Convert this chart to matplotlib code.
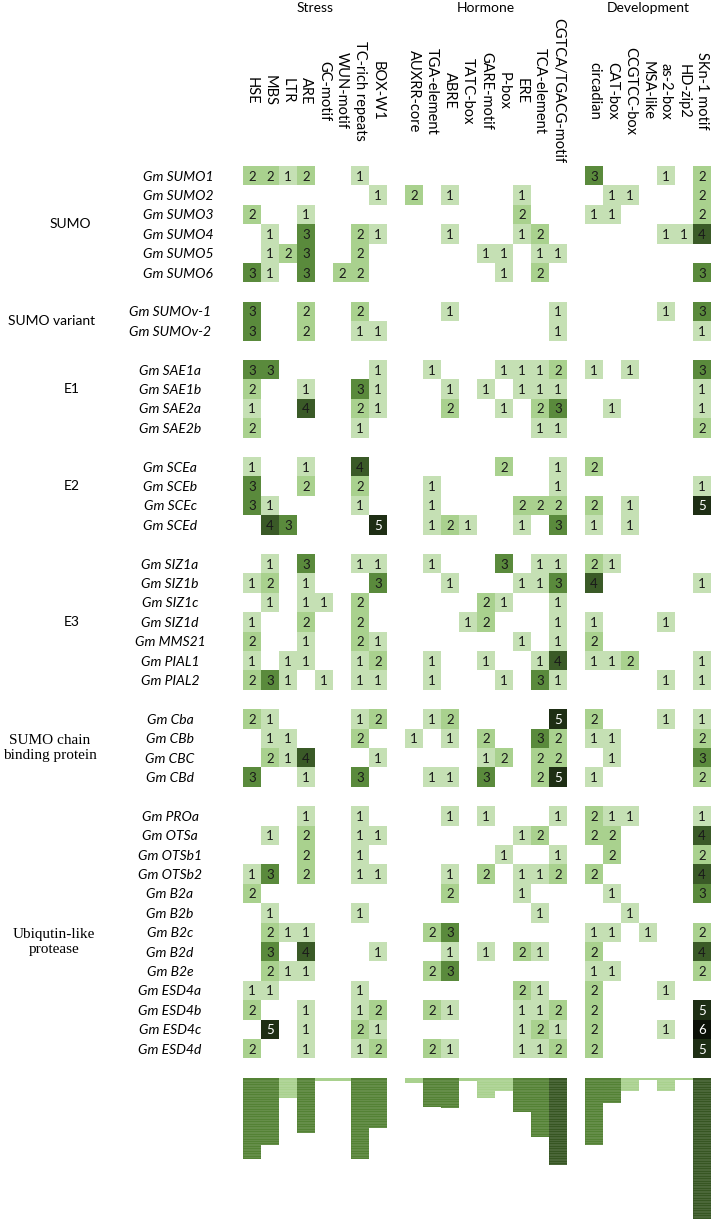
import numpy as np
import matplotlib
matplotlib.use('Agg')
import matplotlib.pyplot as plt
from matplotlib.colors import ListedColormap, BoundaryNorm

#%% data
group_names = ['SUMO', 'SUMO variant', 'E1', 'E2', 'E3',
               'SUMO chain\nbinding protein', 'Ubiqutin-like\nprotease']
group_sizes = [6, 2, 4, 4, 7, 4, 13]

genes = ['SUMO1', 'SUMO2', 'SUMO3', 'SUMO4', 'SUMO5', 'SUMO6',
         'SUMOv-1', 'SUMOv-2',
         'SAE1a', 'SAE1b', 'SAE2a', 'SAE2b',
         'SCEa', 'SCEb', 'SCEc', 'SCEd',
         'SIZ1a', 'SIZ1b', 'SIZ1c', 'SIZ1d', 'MMS21', 'PIAL1', 'PIAL2',
         'Cba', 'CBb', 'CBC', 'CBd',
         'PROa', 'OTSa', 'OTSb1', 'OTSb2', 'B2a', 'B2b', 'B2c', 'B2d', 'B2e',
         'ESD4a', 'ESD4b', 'ESD4c', 'ESD4d']

stress_labels = ['HSE', 'MBS', 'LTR', 'ARE', 'GC-motif', 'WUN-motif',
                 'TC-rich repeats', 'BOX-W1']
hormone_labels = ['AUXRR-core', 'TGA-element', 'ABRE', 'TATC-box', 'GARE-motif',
                  'P-box', 'ERE', 'TCA-element', 'CGTCA/TGACG-motif']
development_labels = ['circadian', 'CAT-box', 'CCGTCC-box', 'MSA-like',
                      'as-2-box', 'HD-zip2', 'SKn-1 motif']

stress = [
    [2, 2, 1, 2, 0, 0, 1, 0], [0, 0, 0, 0, 0, 0, 0, 1], [2, 0, 0, 1, 0, 0, 0, 0],
    [0, 1, 0, 3, 0, 0, 2, 1], [0, 1, 2, 3, 0, 0, 2, 0], [3, 1, 0, 3, 0, 2, 2, 0],
    [3, 0, 0, 2, 0, 0, 2, 0], [3, 0, 0, 2, 0, 0, 1, 1],
    [3, 3, 0, 0, 0, 0, 0, 1], [2, 0, 0, 1, 0, 0, 3, 1], [1, 0, 0, 4, 0, 0, 2, 1],
    [2, 0, 0, 0, 0, 0, 1, 0],
    [1, 0, 0, 1, 0, 0, 4, 0], [3, 0, 0, 2, 0, 0, 2, 0], [3, 1, 0, 0, 0, 0, 1, 0],
    [0, 4, 3, 0, 0, 0, 0, 5],
    [0, 1, 0, 3, 0, 0, 1, 1], [1, 2, 0, 1, 0, 0, 0, 3], [0, 1, 0, 1, 1, 0, 2, 0],
    [1, 0, 0, 2, 0, 0, 2, 0], [2, 0, 0, 1, 0, 0, 2, 1], [1, 0, 1, 1, 0, 0, 1, 2],
    [2, 3, 1, 0, 1, 0, 1, 1],
    [2, 1, 0, 0, 0, 0, 1, 2], [0, 1, 1, 0, 0, 0, 2, 0], [0, 2, 1, 4, 0, 0, 0, 1],
    [3, 0, 0, 1, 0, 0, 3, 0],
    [0, 0, 0, 1, 0, 0, 1, 0], [0, 1, 0, 2, 0, 0, 1, 1], [0, 0, 0, 2, 0, 0, 1, 0],
    [1, 3, 0, 2, 0, 0, 1, 1], [2, 0, 0, 0, 0, 0, 0, 0], [0, 1, 0, 0, 0, 0, 1, 0],
    [0, 2, 1, 1, 0, 0, 0, 0], [0, 3, 0, 4, 0, 0, 0, 1], [0, 2, 1, 1, 0, 0, 0, 0],
    [1, 1, 0, 0, 0, 0, 1, 0], [2, 0, 0, 1, 0, 0, 1, 2], [0, 5, 0, 1, 0, 0, 2, 1],
    [2, 0, 0, 1, 0, 0, 1, 2]]

hormone = [
    [0, 0, 0, 0, 0, 0, 0, 0, 0], [2, 0, 1, 0, 0, 0, 1, 0, 0], [0, 0, 0, 0, 0, 0, 2, 0, 0],
    [0, 0, 1, 0, 0, 0, 1, 2, 0], [0, 0, 0, 0, 1, 1, 0, 1, 1], [0, 0, 0, 0, 0, 1, 0, 2, 0],
    [0, 0, 1, 0, 0, 0, 0, 0, 1], [0, 0, 0, 0, 0, 0, 0, 0, 1],
    [0, 1, 0, 0, 0, 1, 1, 1, 2], [0, 0, 1, 0, 1, 0, 1, 1, 1], [0, 0, 2, 0, 0, 1, 0, 2, 3],
    [0, 0, 0, 0, 0, 0, 0, 1, 1],
    [0, 0, 0, 0, 0, 2, 0, 0, 1], [0, 1, 0, 0, 0, 0, 0, 0, 1], [0, 1, 0, 0, 0, 0, 2, 2, 2],
    [0, 1, 2, 1, 0, 0, 1, 0, 3],
    [0, 1, 0, 0, 0, 3, 0, 1, 1], [0, 0, 1, 0, 0, 0, 1, 1, 3], [0, 0, 0, 0, 2, 1, 0, 0, 1],
    [0, 0, 0, 1, 2, 0, 0, 0, 1], [0, 0, 0, 0, 0, 0, 1, 0, 1], [0, 1, 0, 0, 1, 0, 0, 1, 4],
    [0, 1, 0, 0, 0, 1, 0, 3, 1],
    [0, 1, 2, 0, 0, 0, 0, 0, 5], [1, 0, 1, 0, 2, 0, 0, 3, 2], [0, 0, 0, 0, 1, 2, 0, 2, 2],
    [0, 1, 1, 0, 3, 0, 0, 2, 5],
    [0, 0, 1, 0, 1, 0, 0, 0, 1], [0, 0, 0, 0, 0, 0, 1, 2, 0], [0, 0, 0, 0, 0, 1, 0, 0, 1],
    [0, 0, 1, 0, 2, 0, 1, 1, 2], [0, 0, 2, 0, 0, 0, 1, 0, 0], [0, 0, 0, 0, 0, 0, 0, 1, 0],
    [0, 2, 3, 0, 0, 0, 0, 0, 0], [0, 0, 1, 0, 1, 0, 2, 1, 0], [0, 2, 3, 0, 0, 0, 0, 0, 0],
    [0, 0, 0, 0, 0, 0, 2, 1, 0], [0, 2, 1, 0, 0, 0, 1, 1, 2], [0, 0, 0, 0, 0, 0, 1, 2, 1],
    [0, 2, 1, 0, 0, 0, 1, 1, 2]]

development = [
    [3, 0, 0, 0, 1, 0, 2], [0, 1, 1, 0, 0, 0, 2], [1, 1, 0, 0, 0, 0, 2],
    [0, 0, 0, 0, 1, 1, 4], [0, 0, 0, 0, 0, 0, 0], [0, 0, 0, 0, 0, 0, 3],
    [0, 0, 0, 0, 1, 0, 3], [0, 0, 0, 0, 0, 0, 1],
    [1, 0, 1, 0, 0, 0, 3], [0, 0, 0, 0, 0, 0, 1], [0, 1, 0, 0, 0, 0, 1],
    [0, 0, 0, 0, 0, 0, 2],
    [2, 0, 0, 0, 0, 0, 0], [0, 0, 0, 0, 0, 0, 1], [2, 0, 1, 0, 0, 0, 5],
    [1, 0, 1, 0, 0, 0, 0],
    [2, 1, 0, 0, 0, 0, 0], [4, 0, 0, 0, 0, 0, 1], [0, 0, 0, 0, 0, 0, 0],
    [1, 0, 0, 0, 1, 0, 0], [2, 0, 0, 0, 0, 0, 0], [1, 1, 2, 0, 0, 0, 1],
    [0, 0, 0, 0, 1, 0, 1],
    [2, 0, 0, 0, 1, 0, 1], [1, 1, 0, 0, 0, 0, 2], [0, 1, 0, 0, 0, 0, 3],
    [1, 0, 0, 0, 0, 0, 2],
    [2, 1, 1, 0, 0, 0, 1], [2, 2, 0, 0, 0, 0, 4], [0, 2, 0, 0, 0, 0, 2],
    [2, 0, 0, 0, 0, 0, 4], [0, 1, 0, 0, 0, 0, 3], [0, 0, 1, 0, 0, 0, 0],
    [1, 1, 0, 1, 0, 0, 2], [2, 0, 0, 0, 0, 0, 4], [1, 1, 0, 0, 0, 0, 2],
    [2, 0, 0, 0, 1, 0, 0], [2, 0, 0, 0, 0, 0, 5], [2, 0, 0, 0, 1, 0, 6],
    [2, 0, 0, 0, 0, 0, 5]]

# totals shown as bars under the heatmap
stress_totals = [48, 40, 12, 33, 2, 2, 48, 30]
hormone_totals = [3, 17, 18, 2, 12, 8, 20, 35, 52]
development_totals = [40, 15, 8, 1, 8, 1, 84]

#%% layout (pixels of the 714x1224 output)
W, H = 714, 1224
HEAT_LEFT, CELL_W = 243, 18
HEAT_TOP, ROW_H = 166, 19.4
BAR_TOP, BAR_PX = 1078, 1.68

cell_colors = ['#c5e0b4', '#a9d18e', '#5a8a3c', '#3a5a27', '#1e2e14', '#0b1007']
cmap = ListedColormap(cell_colors)
norm = BoundaryNorm(np.arange(0.5, 7.0, 1.0), cmap.N)

plt.rcParams['font.family'] = ['Lato', 'DejaVu Sans']

# column positions, one empty column between the three blocks
blocks = [(stress_labels, stress, stress_totals, 'Stress'),
          (hormone_labels, hormone, hormone_totals, 'Hormone'),
          (development_labels, development, development_totals, 'Development')]
col_pos, col_labels, totals, block_spans = [], [], [], []
pos = 0
for labels, _, tot, name in blocks:
    start = pos
    for lab, t in zip(labels, tot):
        col_pos.append(pos)
        col_labels.append(lab)
        totals.append(t)
        pos += 1
    block_spans.append((start, pos, name))
    pos += 1
n_cols = pos - 1

values = np.hstack([np.array(stress), np.array(hormone), np.array(development)])

# row positions, one empty row between groups
row_pos, group_rows = [], []
r = 0
for size in group_sizes:
    group_rows.append((r, r + size))
    row_pos.extend(range(r, r + size))
    r += size + 1
n_rows = r - 1

grid = np.zeros((n_rows, n_cols))
for i, rp in enumerate(row_pos):
    for j, cp in enumerate(col_pos):
        grid[rp, cp] = values[i, j]
grid = np.ma.masked_equal(grid, 0)

fig = plt.figure(figsize=(W / 100, H / 100), dpi=100)
heat_h = n_rows * ROW_H
ax = fig.add_axes([HEAT_LEFT / W, 1 - (HEAT_TOP + heat_h) / H,
                   n_cols * CELL_W / W, heat_h / H])
ax.pcolormesh(np.arange(n_cols + 1), np.arange(n_rows + 1), grid,
              cmap=cmap, norm=norm)
ax.set_xlim(0, n_cols)
ax.set_ylim(n_rows, 0)
ax.axis('off')

for i, rp in enumerate(row_pos):
    for j, cp in enumerate(col_pos):
        v = values[i, j]
        if v > 0:
            ax.text(cp + 0.5, rp + 0.55, str(v), ha='center', va='center',
                    fontsize=9.5, color='white' if v >= 5 else '#1a1a1a')

def px_x(px):
    return (px - HEAT_LEFT) / CELL_W

def px_y(px):
    # pixel from top -> axes fraction of the heatmap axes
    return 1 + (HEAT_TOP - px) / heat_h

# gene names
for i, rp in enumerate(row_pos):
    cx = 178 if i < 6 else 170
    ax.text(px_x(cx), rp + 0.55, 'Gm ' + genes[i], ha='center', va='center',
            fontsize=10, style='italic', clip_on=False)

# group names
group_x = [70, 52, 72, 72, 72, 50, 54]
group_anchor = [3.0, 1.0, 1.5, 1.5, 3.5, 2.0, 7.0]
for k, (name, (r0, r1)) in enumerate(zip(group_names, group_rows)):
    serif = '\n' in name
    ax.text(px_x(group_x[k]), r0 + group_anchor[k], name, ha='center', va='center',
            fontsize=11 if serif else 10,
            family=['Liberation Serif'] if serif else ['Lato', 'DejaVu Sans'],
            linespacing=1.25, clip_on=False)

# column labels and block headers
xt = ax.get_xaxis_transform()
for cp, lab in zip(col_pos, col_labels):
    ax.text(cp + 0.5, px_y(91), lab, rotation=-90, ha='center', va='center',
            fontsize=10.5, transform=xt, clip_on=False, rotation_mode='anchor')
for s, e, name in block_spans:
    ax.text((s + e) / 2, px_y(8), name, ha='center', va='center',
            fontsize=10, transform=xt, clip_on=False)

#%% bars of totals
bax = fig.add_axes([HEAT_LEFT / W, 0, n_cols * CELL_W / W, (H - BAR_TOP) / H])
bar_max = (H - BAR_TOP) / BAR_PX

def bar_color(t):
    if t < 13:
        return '#a9d18e'
    if t < 50:
        return '#548235'
    return '#375623'

bax.bar(np.array(col_pos) + 0.5, totals, width=1.0,
        color=[bar_color(t) for t in totals], linewidth=0)
for cp, t in zip(col_pos, totals):
    if t > 3:
        bax.hlines(np.arange(1, t), cp, cp + 1, color='white', alpha=0.12, linewidth=0.6)
bax.set_xlim(0, n_cols)
bax.set_ylim(bar_max, 0)
bax.axis('off')

fig.savefig('out.png', dpi=100)
